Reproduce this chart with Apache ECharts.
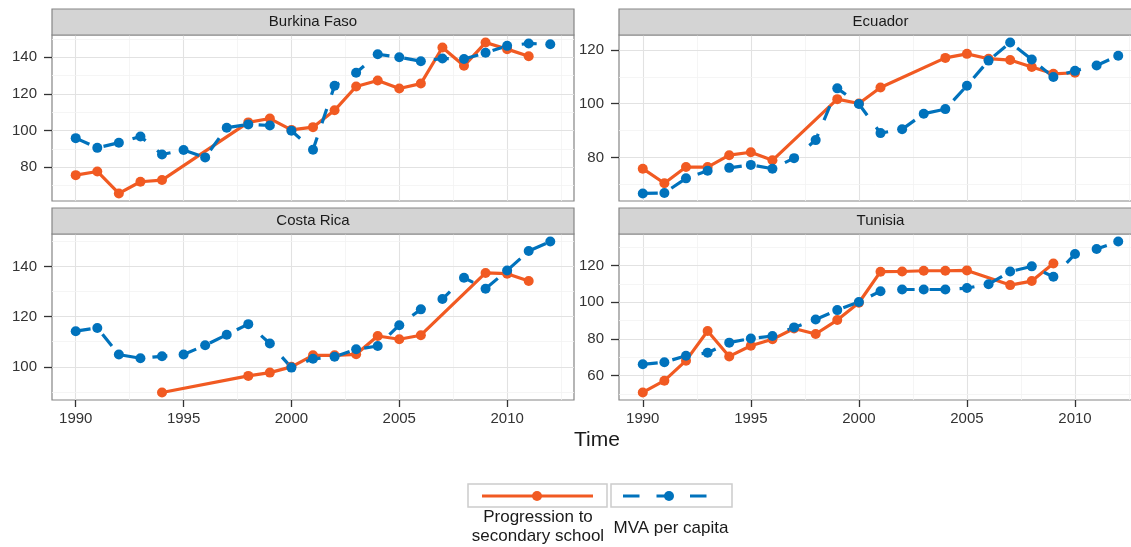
<!DOCTYPE html>
<html>
<head>
<meta charset="utf-8">
<script src="https://cdn.jsdelivr.net/npm/echarts@6/dist/echarts.min.js"></script>
<style>
  html, body { margin: 0; padding: 0; background: #fff; }
  #chart { width: 1131px; height: 547px; }
</style>
</head>
<body>
<div id="chart"></div>
<script>
// years on the time axis
const years = [1990, 1991, 1992, 1993, 1994, 1995, 1996, 1997, 1998, 1999, 2000, 2001,
  2002, 2003, 2004, 2005, 2006, 2007, 2008, 2009, 2010, 2011, 2012];

// Progression to secondary school (null = no value that year)
const progBurkina = [75.6, 77.6, 65.6, 72.0, 72.9, null, null, null, 104.4, 106.5, 100.3, 101.8,
  111.0, 124.0, 127.3, 122.9, 125.6, 145.3, 135.3, 148.0, 144.4, 140.5, null];
const progEcuador = [75.9, 70.5, 76.5, 76.5, 80.9, 82.0, 79.0, null, null, 101.7, 100.1, 106.0,
  null, null, 117.0, 118.5, 116.7, 116.2, 113.6, 111.1, 111.5, null, null];
const progCostaRica = [null, null, null, null, 89.8, null, null, null, 96.4, 97.7, 100.0, 104.6,
  104.6, 105.0, 112.3, 111.0, 112.6, null, null, 137.4, 137.1, 134.2, null];
const progTunisia = [50.9, 57.3, 68.2, 84.3, 70.5, 76.3, 79.8, 85.7, 82.7, 90.3, 99.7, 116.6,
  116.7, 117.1, 117.1, 117.3, null, 109.3, 111.5, 121.1, null, null, null];

// MVA per capita
const mvaBurkina = [95.8, 90.5, 93.3, 96.7, 86.9, 89.3, 85.3, 101.5, 103.3, 102.7, 99.8, 89.5,
  124.4, 131.5, 141.6, 140.0, 137.8, 139.3, 139.0, 142.4, 146.2, 147.5, 147.1];
const mvaEcuador = [66.7, 66.9, 72.3, 75.1, 76.2, 77.3, 75.9, 79.8, 86.5, 105.7, 99.9, 89.1,
  90.5, 96.3, 98.0, 106.7, 116.0, 122.7, 116.4, 109.9, 112.2, 114.2, 117.8];
const mvaCostaRica = [114.2, 115.5, 104.9, 103.4, 104.2, 104.9, 108.6, 112.8, 117.0, 109.3, 99.7, 103.2,
  104.0, 107.0, 108.3, 116.6, 122.9, 127.0, 135.5, 131.1, 138.4, 146.1, 149.9];
const mvaTunisia = [66.2, 67.3, 70.9, 72.5, 78.0, 80.3, 81.6, 86.3, 90.6, 95.7, 100.1, 106.0,
  106.9, 106.9, 106.9, 107.7, 109.8, 116.7, 119.5, 113.8, 126.2, 128.9, 133.0];

const xTicks = [1990, 1995, 2000, 2005, 2010];
const yTicksBurkina = [80, 100, 120, 140];
const yTicksEcuador = [80, 100, 120];
const yTicksCostaRica = [100, 120, 140];
const yTicksTunisia = [60, 80, 100, 120];

const ORANGE = '#f15a22';
const BLUE = '#0072bc';
const MAJOR = '#e2e2e2';
const MINOR = '#f2f2f2';
const FONT = '"Liberation Sans", Arial, sans-serif';

const PH = 166;
const panels = [
  { name: 'Burkina Faso', left: 52, top: 35, width: 522, prog: progBurkina, mva: mvaBurkina, yTicks: yTicksBurkina, bottom: false },
  { name: 'Ecuador', left: 619, top: 35, width: 523, prog: progEcuador, mva: mvaEcuador, yTicks: yTicksEcuador, bottom: false },
  { name: 'Costa Rica', left: 52, top: 234, width: 522, prog: progCostaRica, mva: mvaCostaRica, yTicks: yTicksCostaRica, bottom: true },
  { name: 'Tunisia', left: 619, top: 234, width: 523, prog: progTunisia, mva: mvaTunisia, yTicks: yTicksTunisia, bottom: true }
];

// x range like ggplot: data range plus 5% each side
const X_MIN = 1988.9, X_MAX = 2013.1;

// gridlines: majors on the breaks, minors half way between
function gridLines(min, max, major) {
  const out = [];
  for (let v = Math.ceil(min / (major / 2)) * (major / 2); v <= max; v += major / 2) {
    const isMajor = Math.abs(v / major - Math.round(v / major)) < 1e-6;
    out.push({ value: v, color: isMajor ? MAJOR : MINOR, width: isMajor ? 1.1 : 0.8 });
  }
  return out;
}

const pairs = vals => years.map((y, i) => [y, vals[i]]).filter(p => p[1] != null);
const label = v => String(v);

const grid = [], xAxis = [], yAxis = [], series = [], graphic = [];

panels.forEach((p, i) => {
  const all = p.prog.concat(p.mva).filter(v => v != null);
  const lo = Math.min(...all), hi = Math.max(...all);
  const pad = (hi - lo) * 0.05;
  const yMin = lo - pad, yMax = hi + pad;

  grid.push({
    left: p.left, top: p.top, width: p.width, height: PH,
    show: true, backgroundColor: '#fff', borderColor: '#858585', borderWidth: 1.2,
    outerBoundsMode: 'none', containLabel: false
  });
  xAxis.push({
    gridIndex: i, type: 'value', min: X_MIN, max: X_MAX,
    axisLine: { show: false },
    axisTick: { show: p.bottom, customValues: xTicks, length: 7, lineStyle: { color: '#333', width: 1.3 } },
    axisLabel: { show: p.bottom, customValues: xTicks, formatter: label, margin: 11, color: '#333', fontSize: 15, fontFamily: FONT },
    splitLine: { show: false }
  });
  yAxis.push({
    gridIndex: i, type: 'value', min: yMin, max: yMax,
    axisLine: { show: false },
    axisTick: { show: true, customValues: p.yTicks, length: 8, lineStyle: { color: '#333', width: 1.3 } },
    axisLabel: { show: true, customValues: p.yTicks, formatter: label, margin: 15, color: '#333', fontSize: 15, fontFamily: FONT },
    splitLine: { show: false }
  });

  const lines = gridLines(X_MIN, X_MAX, 5).map(g => ({ xAxis: g.value, lineStyle: { color: g.color, width: g.width } }))
    .concat(gridLines(yMin, yMax, 20).map(g => ({ yAxis: g.value, lineStyle: { color: g.color, width: g.width } })));

  const prog = pairs(p.prog), mva = pairs(p.mva);
  series.push(
    { type: 'line', xAxisIndex: i, yAxisIndex: i, data: prog, symbol: 'none', z: 2, silent: true,
      lineStyle: { color: ORANGE, width: 3.2, cap: 'butt', join: 'round' },
      markLine: { z: 1, silent: true, symbol: 'none', animation: false, label: { show: false },
        lineStyle: { type: 'solid' }, data: lines } },
    { type: 'line', xAxisIndex: i, yAxisIndex: i, data: mva, symbol: 'none', z: 3, silent: true,
      lineStyle: { color: BLUE, width: 3.2, type: [15, 15], cap: 'butt', join: 'round' } },
    { type: 'scatter', xAxisIndex: i, yAxisIndex: i, data: prog, symbolSize: 10, z: 4, silent: true,
      itemStyle: { color: ORANGE, opacity: 1 } },
    { type: 'scatter', xAxisIndex: i, yAxisIndex: i, data: mva, symbolSize: 10, z: 5, silent: true,
      itemStyle: { color: BLUE, opacity: 1 } }
  );

  // facet strip
  graphic.push({
    type: 'rect', z: 10,
    shape: { x: p.left, y: p.top - 26, width: p.width, height: 26 },
    style: { fill: '#d4d4d4', stroke: '#858585', lineWidth: 1.2 }
  }, {
    type: 'text', z: 11, x: p.left + p.width / 2, y: p.top - 13,
    style: { text: p.name, align: 'center', verticalAlign: 'middle', fontSize: 15, fontFamily: FONT, fill: '#1a1a1a' }
  });
});

// axis title
graphic.push({
  type: 'text', x: 597, y: 440,
  style: { text: 'Time', align: 'center', verticalAlign: 'middle', fontSize: 21, fontFamily: FONT, fill: '#1a1a1a' }
});

// legend keys, ggplot style: boxed keys with labels below
graphic.push(
  { type: 'rect', shape: { x: 468, y: 484, width: 139, height: 23 }, style: { fill: '#fff', stroke: '#cccccc', lineWidth: 1.5 } },
  { type: 'line', shape: { x1: 482, y1: 496, x2: 593, y2: 496 }, style: { stroke: ORANGE, lineWidth: 3.2 } },
  { type: 'circle', shape: { cx: 537, cy: 496, r: 5 }, style: { fill: ORANGE } },
  { type: 'rect', shape: { x: 611, y: 484, width: 121, height: 23 }, style: { fill: '#fff', stroke: '#cccccc', lineWidth: 1.5 } },
  { type: 'line', shape: { x1: 623, y1: 496, x2: 707, y2: 496 }, style: { stroke: BLUE, lineWidth: 3.2, lineDash: [16.5, 17] } },
  { type: 'circle', shape: { cx: 669, cy: 496, r: 5 }, style: { fill: BLUE } },
  { type: 'text', x: 538, y: 527,
    style: { text: 'Progression to\nsecondary school', align: 'center', verticalAlign: 'middle', lineHeight: 19,
      fontSize: 17, fontFamily: FONT, fill: '#1a1a1a' } },
  { type: 'text', x: 671, y: 528,
    style: { text: 'MVA per capita', align: 'center', verticalAlign: 'middle', fontSize: 17, fontFamily: FONT, fill: '#1a1a1a' } }
);

const chart = echarts.init(document.getElementById('chart'), null, { renderer: 'canvas' });
chart.setOption({
  animation: false,
  backgroundColor: '#fff',
  grid: grid,
  xAxis: xAxis,
  yAxis: yAxis,
  series: series,
  graphic: graphic
});
</script>
</body>
</html>
